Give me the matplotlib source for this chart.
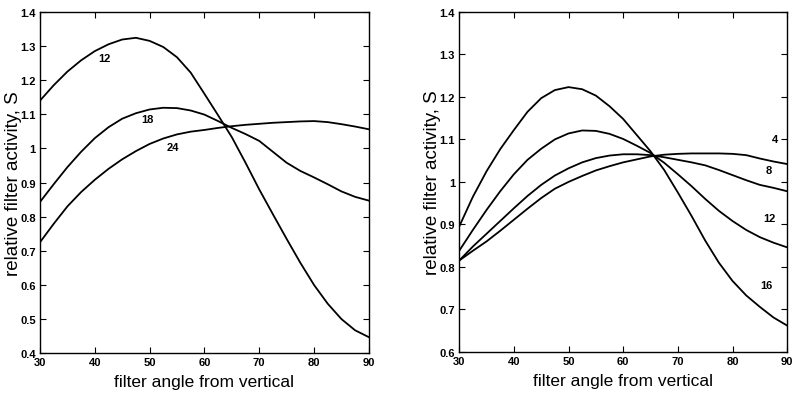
import numpy as np
import matplotlib.pyplot as plt

plt.rcParams['font.family'] = ['Liberation Sans', 'DejaVu Sans']

angle = np.arange(30, 90.1, 2.5)

# left panel: curves labelled 12, 18, 24
left_labels = ["12", "18", "24"]
left_12 = [1.140, 1.185, 1.225, 1.258, 1.285, 1.305, 1.319, 1.324, 1.315, 1.297,
           1.267, 1.222, 1.160, 1.097, 1.033, 0.958, 0.880, 0.807, 0.735, 0.665,
           0.600, 0.545, 0.500, 0.467, 0.447]
left_18 = [0.843, 0.895, 0.945, 0.990, 1.030, 1.062, 1.087, 1.103, 1.114, 1.119,
           1.118, 1.111, 1.099, 1.080, 1.060, 1.042, 1.022, 0.990, 0.958, 0.934,
           0.915, 0.895, 0.874, 0.858, 0.847]
left_24 = [0.725, 0.779, 0.830, 0.872, 0.908, 0.940, 0.968, 0.992, 1.013, 1.029,
           1.041, 1.049, 1.054, 1.060, 1.065, 1.069, 1.072, 1.075, 1.077, 1.079,
           1.080, 1.077, 1.071, 1.064, 1.056]
left_label_pos = [(41.8, 1.265), (49.6, 1.085), (54.2, 1.005)]

# right panel: curves labelled 4, 8, 12, 16
right_labels = ["4", "8", "12", "16"]
right_4 = [0.815, 0.838, 0.860, 0.885, 0.911, 0.937, 0.962, 0.984, 1.000, 1.014,
           1.027, 1.037, 1.046, 1.053, 1.060, 1.064, 1.066, 1.067, 1.067, 1.067,
           1.066, 1.063, 1.055, 1.048, 1.042]
right_8 = [0.815, 0.848, 0.878, 0.908, 0.938, 0.967, 0.993, 1.015, 1.032, 1.046,
           1.056, 1.062, 1.065, 1.065, 1.063, 1.058, 1.052, 1.046, 1.039, 1.028,
           1.016, 1.004, 0.993, 0.986, 0.978]
right_12 = [0.838, 0.887, 0.934, 0.978, 1.018, 1.052, 1.078, 1.100, 1.114, 1.121,
            1.120, 1.113, 1.101, 1.085, 1.068, 1.045, 1.018, 0.990, 0.960, 0.932,
            0.908, 0.887, 0.870, 0.857, 0.846]
right_16 = [0.895, 0.965, 1.025, 1.077, 1.122, 1.165, 1.197, 1.216, 1.223, 1.218,
            1.203, 1.178, 1.148, 1.110, 1.072, 1.028, 0.975, 0.920, 0.862, 0.810,
            0.767, 0.733, 0.706, 0.681, 0.662]
right_label_pos = [(87.7, 1.100), (86.6, 1.028), (86.8, 0.915), (86.2, 0.757)]

fig = plt.figure(figsize=(8, 4.02), dpi=100)
ax1 = fig.add_axes([0.050, 0.119, 0.411, 0.849])
ax2 = fig.add_axes([0.574, 0.122, 0.410, 0.846])


def style(ax, ylim, yticks):
    ax.set_xlim(30, 90)
    ax.set_ylim(*ylim)
    ax.set_xticks(range(30, 91, 10))
    ax.set_yticks(yticks)
    ax.set_yticklabels([f"{v:g}" for v in yticks])
    ax.tick_params(direction="in", top=True, right=True, length=4, width=0.8,
                   labelsize=8, pad=3)
    for lab in ax.get_xticklabels() + ax.get_yticklabels():
        lab.set_fontweight("bold")
    for sp in ax.spines.values():
        sp.set_linewidth(1.0)
    ax.set_xlabel("filter angle from vertical", fontsize=12.5, labelpad=5)
    ax.set_ylabel("relative filter activity, S", fontsize=13.5, labelpad=-1)


for ys in (left_12, left_18, left_24):
    ax1.plot(angle, ys, color="black", linewidth=1.3)
for lab, (x, y) in zip(left_labels, left_label_pos):
    ax1.text(x, y, lab, fontsize=8, fontweight="bold", ha="center", va="center")
style(ax1, (0.4, 1.4), np.round(np.arange(0.4, 1.41, 0.1), 1))

for ys in (right_4, right_8, right_12, right_16):
    ax2.plot(angle, ys, color="black", linewidth=1.3)
for lab, (x, y) in zip(right_labels, right_label_pos):
    ax2.text(x, y, lab, fontsize=8, fontweight="bold", ha="center", va="center")
style(ax2, (0.6, 1.4), np.round(np.arange(0.6, 1.41, 0.1), 1))

fig.savefig("out.png", dpi=100)
